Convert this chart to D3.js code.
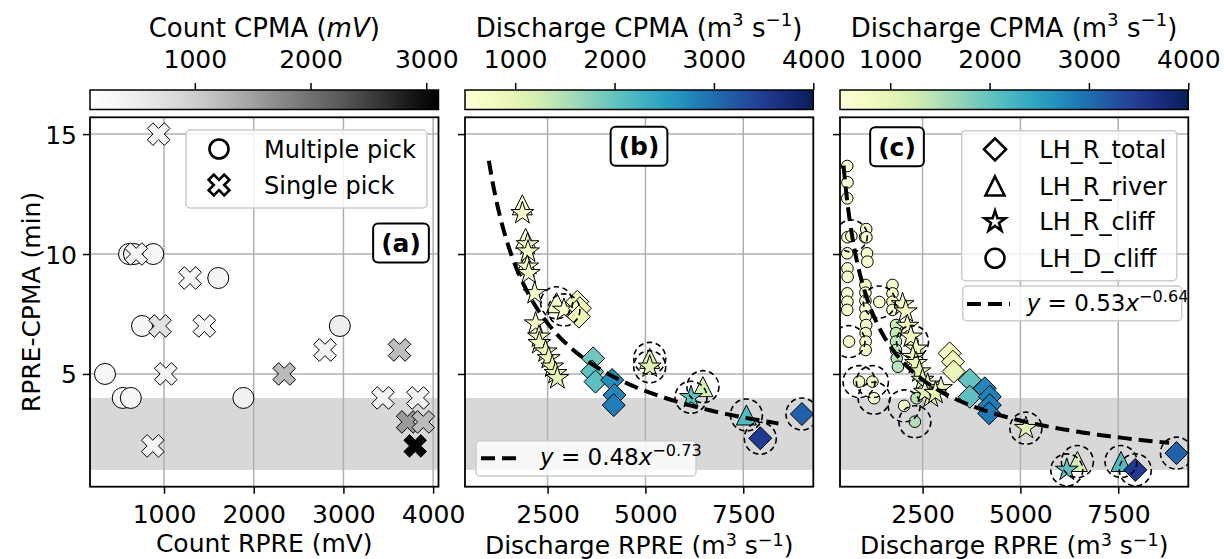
<!DOCTYPE html>
<html><head><meta charset="utf-8">
<script src="https://cdn.jsdelivr.net/npm/d3@7"></script>
<style>body{margin:0;background:#fff} text{font-family:"DejaVu Sans",sans-serif;fill:#000}</style>
</head><body><svg id="chart" width="1224" height="559"></svg>
<script>
// ---------------- data ----------------
// panel (a): [Count RPRE (mV), RPRE-CPMA (min), Count CPMA (mV)]
const aMultiple = [[610,10,300],[665,10,320],[880,10,300],[1605,9,330],[755,7,300],[2960,7,480],[342,5,300],[540,4,300],[630,4,320],[1885,4,420]];
const aSingle = [[940,15,330],[690,10,330],[1290,9,330],[955,7,700],[1450,7,330],[2795,6,380],[3625,6,1200],[1020,5,380],[2340,5,1230],[3440,4,380],[3830,4,380],[3715,3,1570],[3890,3,1220],[3800,2,3100],[875,2,330]];
// panel (b): [Discharge RPRE, RPRE-CPMA, Discharge CPMA, highlighted]
const bTriangles = [[1855,12.05,560,0],[1940,10.65,600,0],[1960,9.6,620,0],[2730,7.97,650,1],[5110,5.65,1150,1],[6470,4.47,1200,1],[7580,3.29,2150,1]];
const bStars = [[1855,11.7,600,0],[1990,10.4,620,0],[2000,10.1,650,0],[1980,9.47,640,0],[2020,9.2,680,0],[2170,8.36,700,0],[2917,7.67,650,1],[2195,7.1,720,0],[2280,6.55,760,0],[2290,6.28,800,0],[2450,5.93,850,0],[2530,5.65,900,0],[2620,5.3,950,0],[2705,5.03,1000,0],[2750,4.82,1050,0],[5110,5.3,1100,1],[6165,4.03,2050,1]];
const bDiamonds = [[3258,8.01,800,0],[3325,7.74,850,0],[3300,7.39,900,0],[3665,5.65,1930,0],[3640,5.1,2040,0],[3725,4.68,2050,0],[4150,4.75,2700,0],[4210,4.12,2780,0],[4190,3.7,2850,0],[7935,2.32,3520,1],[9000,3.33,3100,1]];
// panel (c)
const cCircles = [[575,13.67,560,0],[580,12.99,560,0],[575,12.32,560,0],[580,10.7,600,0],[575,10.03,600,0],[580,9.4,600,0],[585,9.05,600,0],[575,8.36,600,0],[580,8.01,600,0],[575,7.67,600,0],[620,6.35,600,1],[680,10.75,600,1],
  [1030,10.7,620,0],[1060,11.04,620,0],[1065,10.7,620,0],[1080,10.03,620,0],[1090,9.68,620,0],[1040,8.71,620,0],[1040,8.39,620,0],[1040,8.05,620,0],[1040,7.72,620,0],[1045,7.39,620,0],[1060,7.04,640,0],[1045,6.7,640,0],[1045,6.35,640,0],[1045,6.0,640,0],
  [1395,8.0,620,1],[1731,8.71,640,0],[1731,8.36,640,0],[1731,8.01,640,0],[1731,7.67,640,0],
  [1820,7.04,1300,0],[1820,6.7,1350,0],[1820,6.35,1400,0],[1820,6.0,1400,0],[1840,5.65,1450,0],[1870,5.3,1450,0],
  [2244,6.35,700,1],[877,4.68,650,1],[1218,4.68,650,1],[1261,3.99,650,1],[2030,3.67,700,1],[2346,3.99,1400,0],[2303,3.01,1500,1]];
const cTriangles = [[6456,1.35,1200,1],[7570,1.35,2150,1]];
const cStars = [[1990,7.9,740,0],[2070,7.6,760,0],[2110,7.0,780,0],[2200,6.55,800,0],[2330,6.05,850,0],[2250,5.7,900,0],[2330,5.45,950,0],[2420,5.1,1000,0],[2500,4.75,1050,0],[2630,4.55,1050,0],[2710,4.05,1090,0],[2970,4.4,800,0],[2560,4.25,1090,0],[2830,4.2,1000,0],[5140,2.74,1050,1],[6185,1.0,2050,1]];
const cDiamonds = [[3192,5.86,800,0],[3277,5.51,850,0],[3295,5.1,900,0],[3705,4.75,2000,0],[3705,4.05,2050,0],[4090,4.4,2750,0],[4218,4.05,2800,0],[4218,3.7,2850,0],[4200,3.36,2900,0],[7936,1.0,3520,1],[8987,1.7,3100,1]];
// power-law fits: [coefficient (min), exponent, x start, x end]
const fitB = [2151, -0.73, 1000, 8400];
const fitC = [712, -0.64, 480, 8800];
const fitBLabel = ["0.48", "\u22120.73"];
const fitCLabel = ["0.53", "\u22120.64"];
// axes
const yDomain = [0.3, 15.7], yTicks = [5, 10, 15];
const band = [1, 4];
const xDomainA = [175, 4060], xTicksA = [1000, 2000, 3000, 4000];
const xDomainBC = [390, 9290], xTicksBC = [2500, 5000, 7500];
const countCbarDomain = [94, 3106], countCbarTicks = [1000, 2000, 3000];
const qCbarDomain = [495, 4000], qCbarTicks = [1000, 2000, 3000, 4000];
const legendA = ["Multiple pick", "Single pick"];
const legendC = ["LH_R_total", "LH_R_river", "LH_R_cliff", "LH_D_cliff"];

// ---------------- layout ----------------
const svg = d3.select("#chart");
const TOP = 117.3, BOT = 486.7;
const PX = {a: [90, 438.5], b: [465, 813.3], c: [840, 1188.3]};
const CB = [90, 109.5];
const FS = 25, TFS = 26, LFS = 24;

const grey = d3.scaleSequential(d3.interpolateGreys).domain(countCbarDomain);
const ygb = d3.scaleSequential(d3.interpolateYlGnBu).domain(qCbarDomain);

// ---------------- marker paths ----------------
function starPath(R){const r=R*0.381966;let p="";for(let i=0;i<10;i++){const a=-Math.PI/2+i*Math.PI/5;const rr=i%2?r:R;p+=(i?"L":"M")+(rr*Math.cos(a)).toFixed(2)+","+(rr*Math.sin(a)).toFixed(2);}return p+"Z";}
function diamondPath(r){return `M0,${-r}L${r},0L0,${r}L${-r},0Z`;}
function triPath(r){return `M0,${-r}L${r},${r}L${-r},${r}Z`;}
const plusPts=[[-1,-3],[1,-3],[1,-1],[3,-1],[3,1],[1,1],[1,3],[-1,3],[-1,1],[-3,1],[-3,-1],[-1,-1]];
function xPath(k){const c=Math.SQRT1_2;return "M"+plusPts.map(([a,b])=>{a=a/6*k;b=b/6*k;return (a*c-b*c).toFixed(2)+","+(a*c+b*c).toFixed(2);}).join("L")+"Z";}
function circlePath(r){return `M${r},0A${r},${r} 0 1,1 ${-r},0A${r},${r} 0 1,1 ${r},0Z`;}

// ---------------- rich text ----------------
function rich(g,x,y,segs,size,anchor,raise){
  const rs=raise||0.4;
  const t=g.append("text").attr("x",x).attr("y",y).attr("font-size",size).attr("text-anchor",anchor||"start");
  let shifted=false;
  segs.forEach(s=>{
    const sp=t.append("tspan").text(s.t);
    if(s.it) sp.attr("font-style","italic");
    if(s.sup){sp.attr("font-size",size*0.7);if(!shifted){sp.attr("dy",-size*rs);shifted=true;}}
    else if(shifted){sp.attr("dy",size*rs);shifted=false;}
  });
  return t;
}

// ---------------- panels ----------------
const defs = svg.append("defs");
function panel(key, xDomain, xTicks, showY){
  const [x0,x1]=PX[key];
  const x=d3.scaleLinear().domain(xDomain).range([x0,x1]);
  const y=d3.scaleLinear().domain(yDomain).range([BOT,TOP]);
  const g=svg.append("g");
  defs.append("clipPath").attr("id","clip"+key).append("rect").attr("x",x0).attr("y",TOP).attr("width",x1-x0).attr("height",BOT-TOP);
  g.append("rect").attr("x",x0).attr("width",x1-x0).attr("y",y(band[1])).attr("height",y(band[0])-y(band[1])).attr("fill","#d8d8d8");
  xTicks.forEach(t=>g.append("line").attr("x1",x(t)).attr("x2",x(t)).attr("y1",TOP).attr("y2",BOT).attr("stroke","#b0b0b0").attr("stroke-width",1.5));
  yTicks.forEach(t=>g.append("line").attr("x1",x0).attr("x2",x1).attr("y1",y(t)).attr("y2",y(t)).attr("stroke","#b0b0b0").attr("stroke-width",1.5));
  const ax=g.append("g").attr("transform",`translate(0,${BOT})`).call(d3.axisBottom(x).tickValues(xTicks).tickSize(7).tickFormat(d3.format("d")));
  ax.select(".domain").remove();
  ax.selectAll("line").attr("stroke","#000").attr("stroke-width",1.5);
  ax.selectAll("text").attr("font-size",FS).attr("font-family","DejaVu Sans").attr("y",36.5).attr("dy",0).attr("fill","#000");
  const ay=g.append("g").attr("transform",`translate(${x0},0)`).call(d3.axisLeft(y).tickValues(yTicks).tickSize(7).tickPadding(6));
  ay.select(".domain").remove();
  ay.selectAll("line").attr("stroke","#000").attr("stroke-width",1.5);
  ay.selectAll("text").attr("font-size",FS).attr("font-family","DejaVu Sans").attr("fill","#000").attr("dy","0.36em");
  if(!showY) ay.selectAll("text").remove();
  const m=g.append("g").attr("clip-path",`url(#clip${key})`);
  return {x,y,g,m,x0,x1};
}
function frame(P){P.g.append("rect").attr("x",P.x0).attr("y",TOP).attr("width",P.x1-P.x0).attr("height",BOT-TOP).attr("fill","none").attr("stroke","#000").attr("stroke-width",1.8);}

function drawMarkers(P,data,path,scale,sw){
  P.m.selectAll(null).data(data).join("path").attr("d",path)
    .attr("transform",d=>`translate(${P.x(d[0])},${P.y(d[1])})`)
    .attr("fill",d=>scale(d[2])).attr("stroke","#000").attr("stroke-width",sw||1);
}
function drawHL(P,data){
  P.m.selectAll(null).data(data.filter(d=>d[3])).join("circle")
    .attr("cx",d=>P.x(d[0])).attr("cy",d=>P.y(d[1])).attr("r",16)
    .attr("fill","none").attr("stroke","#000").attr("stroke-width",1.6).attr("stroke-dasharray","5.5,3.5");
}
function drawFit(P,f){
  const pts=d3.range(0,201).map(i=>{const xv=f[2]*Math.pow(f[3]/f[2],i/200);return [xv,f[0]*Math.pow(xv,f[1])];});
  P.m.append("path").attr("d",d3.line().x(d=>P.x(d[0])).y(d=>P.y(d[1]))(pts))
    .attr("fill","none").attr("stroke","#000").attr("stroke-width",4).attr("stroke-dasharray","14,7");
}
function labelBox(g,cx,cy,txt){
  const t=g.append("text").attr("x",cx).attr("y",cy).attr("text-anchor","middle").attr("dy","0.36em").attr("font-size",FS).attr("font-weight","bold").text(txt);
  const bb=t.node().getBBox();
  g.insert("rect",()=>t.node()).attr("x",bb.x-8).attr("y",cy-19.5).attr("width",bb.width+16).attr("height",39).attr("rx",5)
    .attr("fill","#fff").attr("stroke","#000").attr("stroke-width",2);
}
function legendFrame(g,x0,y0,x1,y1){
  g.append("rect").attr("x",x0).attr("y",y0).attr("width",x1-x0).attr("height",y1-y0).attr("rx",4)
    .attr("fill","#fff").attr("fill-opacity",0.82).attr("stroke","#cccccc").attr("stroke-width",1.5);
}

// ---- (a)
const A=panel("a",xDomainA,xTicksA,true);
drawMarkers(A,aMultiple,circlePath(10.5),grey);
drawMarkers(A,aSingle,xPath(24),grey);
frame(A);
legendFrame(A.g,186,130,427,208);
A.g.append("path").attr("d",circlePath(9.5)).attr("transform","translate(219,149)").attr("fill","#fff").attr("stroke","#000").attr("stroke-width",2.6);
A.g.append("path").attr("d",xPath(22)).attr("transform","translate(219,185)").attr("fill","#fff").attr("stroke","#000").attr("stroke-width",2.6);
legendA.forEach((s,i)=>A.g.append("text").attr("x",264).attr("y",157.5+i*36).attr("font-size",LFS).text(s));
labelBox(A.g,401,243,"(a)");

// ---- (b)
const B=panel("b",xDomainBC,xTicksBC,false);
drawMarkers(B,bTriangles,triPath(10),ygb);
drawMarkers(B,bStars,starPath(12),ygb);
drawMarkers(B,bDiamonds,diamondPath(11.5),ygb);
drawHL(B,bTriangles);drawHL(B,bStars);drawHL(B,bDiamonds);
drawFit(B,fitB);
frame(B);
labelBox(B.g,639,146.3,"(b)");
legendFrame(B.g,476,440.7,696,476);
B.g.append("line").attr("x1",481).attr("x2",523).attr("y1",458.3).attr("y2",458.3).attr("stroke","#000").attr("stroke-width",4).attr("stroke-dasharray","14,7");
rich(B.g,540,465,[{t:"y",it:true},{t:" = "+fitBLabel[0]},{t:"x",it:true},{t:fitBLabel[1],sup:true}],23);

// ---- (c)
const C=panel("c",xDomainBC,xTicksBC,false);
drawMarkers(C,cCircles,circlePath(5.8),ygb);
drawMarkers(C,cTriangles,triPath(10),ygb);
drawMarkers(C,cStars,starPath(12),ygb);
drawMarkers(C,cDiamonds,diamondPath(11.5),ygb);
drawHL(C,cCircles);drawHL(C,cTriangles);drawHL(C,cStars);drawHL(C,cDiamonds);
drawFit(C,fitC);
frame(C);
labelBox(C.g,897,146.7,"(c)");
legendFrame(C.g,961.7,130.7,1176.7,280.7);
const lm=[diamondPath(11),triPath(9.5),starPath(11),circlePath(9.5)];
const rowY=[149.3,186,221.7,258.3];
legendC.forEach((s,i)=>{
  C.g.append("path").attr("d",lm[i]).attr("transform",`translate(995,${rowY[i]})`).attr("fill","#fff").attr("stroke","#000").attr("stroke-width",2.6);
  C.g.append("text").attr("x",1039.3).attr("y",rowY[i]+8.5).attr("font-size",LFS).text(s);
});
legendFrame(C.g,962.7,286,1181.7,320.7);
C.g.append("line").attr("x1",967).attr("x2",1010).attr("y1",304).attr("y2",304).attr("stroke","#000").attr("stroke-width",4).attr("stroke-dasharray","14,7");
rich(C.g,1026.7,311,[{t:"y",it:true},{t:" = "+fitCLabel[0]},{t:"x",it:true},{t:fitCLabel[1],sup:true}],23);

// ---------------- colorbars ----------------
function colorbar(key,scale,domain,ticks,title){
  const [x0,x1]=PX[key];
  const id="grad"+key;
  const gr=defs.append("linearGradient").attr("id",id);
  d3.range(0,41).forEach(i=>gr.append("stop").attr("offset",(i/40*100)+"%").attr("stop-color",scale(domain[0]+(domain[1]-domain[0])*i/40)));
  const g=svg.append("g");
  g.append("rect").attr("x",x0).attr("y",CB[0]).attr("width",x1-x0).attr("height",CB[1]-CB[0]).attr("fill",`url(#${id})`).attr("stroke","#000").attr("stroke-width",1.5);
  const s=d3.scaleLinear().domain(domain).range([x0,x1]);
  const ax=g.append("g").attr("transform",`translate(0,${CB[0]})`).call(d3.axisTop(s).tickValues(ticks).tickSize(7).tickFormat(d3.format("d")));
  ax.select(".domain").remove();
  ax.selectAll("line").attr("stroke","#000").attr("stroke-width",1.5);
  ax.selectAll("text").attr("font-size",FS).attr("font-family","DejaVu Sans").attr("fill","#000").attr("y",-22).attr("dy",0);
  rich(g,(x0+x1)/2,36.5,title,TFS,"middle");
}
colorbar("a",grey,countCbarDomain,countCbarTicks,[{t:"Count CPMA ("},{t:"mV",it:true},{t:")"}]);
const qTitle=[{t:"Discharge CPMA (m"},{t:"3",sup:true},{t:" s"},{t:"\u22121",sup:true},{t:")"}];
colorbar("b",ygb,qCbarDomain,qCbarTicks,qTitle);
colorbar("c",ygb,qCbarDomain,qCbarTicks,qTitle);

// ---------------- axis labels ----------------
svg.append("text").attr("transform","translate(40,302) rotate(-90)").attr("text-anchor","middle").attr("font-size",FS).text("RPRE-CPMA (min)");
rich(svg,(PX.a[0]+PX.a[1])/2,552,[{t:"Count RPRE (mV)"}],FS,"middle");
const qLabel=[{t:"Discharge RPRE (m"},{t:"3",sup:true},{t:" s"},{t:"\u22121",sup:true},{t:")"}];
rich(svg,(PX.b[0]+PX.b[1])/2,554,qLabel,FS,"middle",0.34);
rich(svg,(PX.c[0]+PX.c[1])/2,554,qLabel,FS,"middle",0.34);
</script></body></html>
